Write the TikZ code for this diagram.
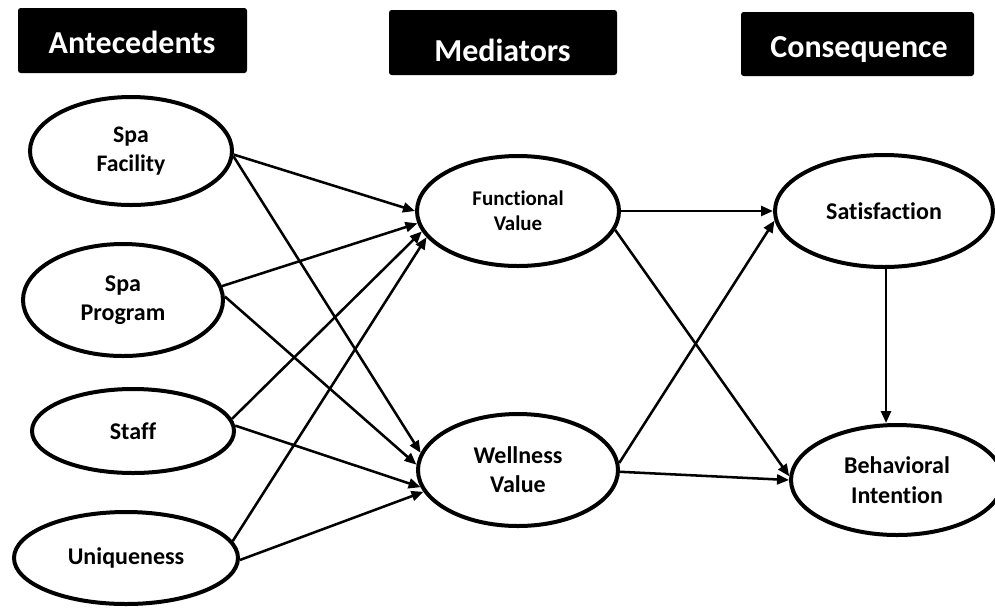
\documentclass[tikz,border=0pt]{standalone}
\usepackage{fontspec}
\setmainfont{Carlito}[Ligatures=NoCommon]
\usetikzlibrary{shapes.geometric,arrows.meta}

\newcommand\txtsize[2]{\fontsize{#1}{#2}\selectfont}

\tikzset{
  construct/.style={ellipse, draw, line width=3pt, inner sep=0pt, align=center},
  header/.style={fill=black, rounded corners=2pt, inner sep=0pt},
  headtext/.style={anchor=base, text=white, inner sep=0pt, font=\bfseries\txtsize{24}{28}},
  link/.style={line width=1.9pt, -{Triangle[length=9pt,width=7.5pt]}},
}

\begin{document}
\begin{tikzpicture}[x=0.75pt,y=-0.75pt]
\useasboundingbox (0,0) rectangle (995,608);

% column headers
\node[header, minimum width=171.75pt, minimum height=48.75pt] (hA) at (132.5,40.5) {};
\node[headtext] (tA) at (132,53) {Antecedents};
\node[header, minimum width=171pt, minimum height=48.75pt] (hM) at (503,42.5) {};
\node[headtext] (tM) at (502.5,61) {Mediators};
\node[header, minimum width=174.75pt, minimum height=48pt] (hC) at (857.5,44) {};
\node[headtext] (tC) at (859,57) {Consequence};

% antecedents
\node[construct, minimum width=151.5pt, minimum height=81pt, font=\bfseries\txtsize{17.8}{21.75}] (sf) at (131,151) {Spa\\Facility};
\node[construct, minimum width=150pt, minimum height=84pt, font=\bfseries\txtsize{18}{21.75}] (sp) at (123,300) {Spa\\Program};
\node[construct, minimum width=151.5pt, minimum height=63pt, font=\bfseries\txtsize{18}{21}] (st) at (133,431) {Staff};
\node[construct, minimum width=168pt, minimum height=69pt, font=\bfseries\txtsize{18}{21}] (un) at (126,558) {Uniqueness};

% mediators
\node[construct, minimum width=151.5pt, minimum height=82.5pt, font=\bfseries\txtsize{15.7}{18.75}] (fv) at (518,211) {Functional\\Value};
\node[construct, minimum width=150pt, minimum height=84pt, font=\bfseries\txtsize{18}{21.75}] (wv) at (518,470) {Wellness\\Value};

% consequences
\node[construct, minimum width=163.5pt, minimum height=84pt, font=\bfseries\txtsize{18}{21}] (sa) at (884,211) {Satisfaction};
\node[construct, minimum width=159pt, minimum height=82.5pt, font=\bfseries\txtsize{18}{22.5}] (bi) at (897,480) {Behavioral\\Intention};

% paths
\draw[link] (sf.-2) -- (fv.180);
\draw[link] (sf.-3) -- (wv.170);
\draw[link] (sp.8) -- (fv.-173);
\draw[link] (sp.2) -- (wv.177);
\draw[link] (st.7) -- (fv.-168);
\draw[link] (st.3) -- (wv.-170);
\draw[link] (un.9) -- (fv.-164);
\draw[link] (un.-1) -- (wv.-167);
\draw[link] (fv.0) -- (sa.180);
\draw[link] (fv.-11) -- (bi.178);
\draw[link] (wv.4) -- (sa.-175);
\draw[link] (wv.-1) -- (bi.180);
\draw[link] (sa.-88) -- (sa.-88 |- bi.north);
\end{tikzpicture}
\end{document}
